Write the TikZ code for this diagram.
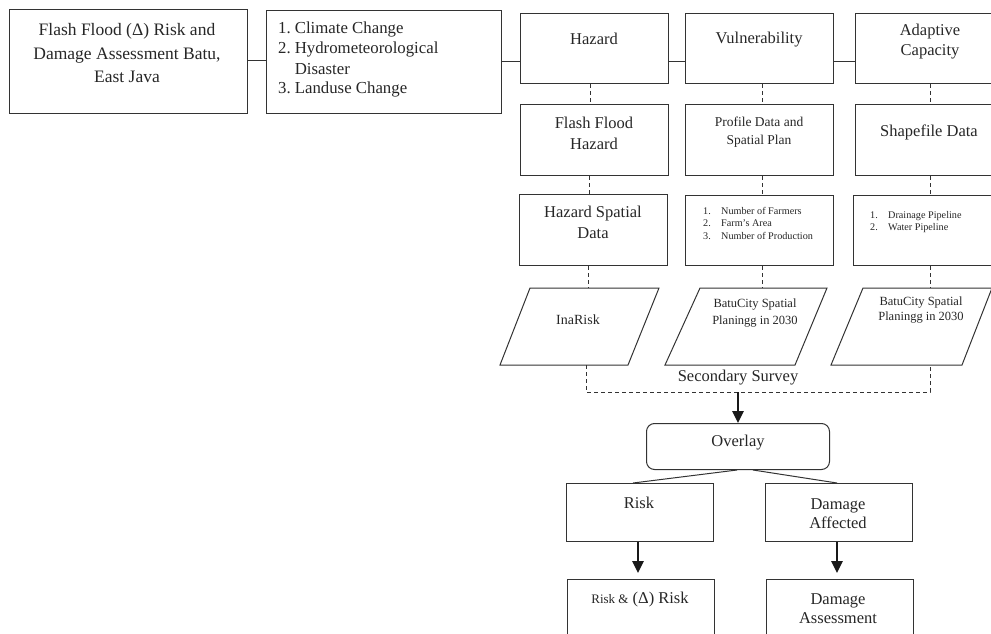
\documentclass[tikz,border=0pt]{standalone}
\usepackage{fontspec}
\setmainfont{Liberation Serif}
\usetikzlibrary{arrows.meta,calc}
\begin{document}
\begin{tikzpicture}[x=1pt,y=-1pt,
  box/.style={draw=black!80, line width=1pt, rectangle, inner sep=0pt, anchor=north west},
  rbox/.style={box, rounded corners=8pt},
  txt/.style={font=\fontsize{16.5}{20}\selectfont, text=black!85, align=center, inner sep=0pt},
  mtxt/.style={font=\fontsize{13.5}{18}\selectfont, text=black!85, align=center, inner sep=0pt},
  stxt/.style={font=\fontsize{10.2}{12.5}\selectfont, text=black!85, align=left, inner sep=0pt, anchor=west},
  conn/.style={draw=black!80, line width=1pt},
  dsh/.style={draw=black!80, line width=1pt, dash pattern=on 4pt off 3pt},
  arr/.style={draw=black!90, line width=1.4pt, -{Triangle[width=11.5pt,length=12pt]}},
  para/.style={draw=black!80, line width=1pt, line join=miter}
]
\useasboundingbox (0,0) rectangle (991,634);
\clip (0,0) rectangle (991,634);

% --- top row boxes
\node[box, minimum width=238pt, minimum height=104pt] (b1) at (9,9) {};
\node[box, minimum width=235pt, minimum height=103pt] (b2) at (266,10) {};
\node[box, minimum width=148pt, minimum height=70pt] (haz) at (520,13) {};
\node[box, minimum width=148pt, minimum height=70pt] (vul) at (685,13) {};
\node[box, minimum width=150pt, minimum height=70pt] (ada) at (855,13) {};

\node[txt, font=\fontsize{17.5}{20}\selectfont] (t1) at (127,53.5) {Flash Flood (Δ) Risk and\\[3.5pt]Damage Assessment Batu,\\[3.5pt]East Java};
\node[txt, font=\fontsize{16.8}{20}\selectfont, align=left, anchor=west] (t2) at (278,60) {%
  \begin{tabular}{@{}l@{\hspace{4pt}}l@{}}
  1. & Climate Change\\
  2. & Hydrometeorological\\
     & Disaster\\
  3. & Landuse Change
  \end{tabular}};
\node[txt] (th) at (594,39) {Hazard};
\node[txt] (tv) at (759,40) {Vulnerability};
\node[txt] (ta) at (930,42) {Adaptive\\Capacity};

\draw[conn] (b1.east |- 0,61) -- (b2.west |- 0,61);
\draw[conn] (b2.east |- 0,62) -- (haz.west |- 0,62);
\draw[conn] (haz.east |- 0,62) -- (vul.west |- 0,62);
\draw[conn] (vul.east |- 0,62) -- (ada.west |- 0,62);

% --- second row
\node[box, minimum width=148pt, minimum height=71pt] (ffh) at (520,104) {};
\node[box, minimum width=148pt, minimum height=71pt] (pro) at (685,104) {};
\node[box, minimum width=150pt, minimum height=71pt] (shp) at (855,104) {};
\node[txt] (tffh) at (594,133.5) {Flash Flood\\[1pt]Hazard};
\node[mtxt] (tpro) at (759,132) {Profile Data and\\Spatial Plan};
\node[txt] (tshp) at (929,132) {Shapefile Data};

% --- third row
\node[box, minimum width=148pt, minimum height=71pt] (hsd) at (519,194) {};
\node[box, minimum width=148pt, minimum height=70pt] (lst) at (685,195) {};
\node[box, minimum width=150pt, minimum height=70pt] (pip) at (853,195) {};
\node[txt] (thsd) at (593,222.5) {Hazard Spatial\\[1pt]Data};
\node[stxt] (tlst) at (703,223) {\makebox[18pt][l]{1.}Number of Farmers\\\makebox[18pt][l]{2.}Farm's Area\\\makebox[18pt][l]{3.}Number of Production};
\node[stxt] (tpip) at (870,222) {\makebox[18pt][l]{1.}Drainage Pipeline\\\makebox[18pt][l]{2.}Water Pipeline};

% vertical dashed connectors
\draw[dsh] (haz.south -| 590,0) -- (ffh.north -| 590,0);
\draw[dsh] (vul.south -| 762,0) -- (pro.north -| 762,0);
\draw[dsh] (ada.south -| 930,0) -- (shp.north -| 930,0);
\draw[dsh] (ffh.south -| 589,0) -- (hsd.north -| 589,0);
\draw[dsh] (pro.south -| 762,0) -- (lst.north -| 762,0);
\draw[dsh] (shp.south -| 930,0) -- (pip.north -| 930,0);

% --- parallelograms
\draw[para] (530,288) -- (659,288) -- (628,365) -- (500,365) -- cycle;
\draw[para] (700,288) -- (827,288) -- (795,365) -- (665,365) -- cycle;
\draw[para] (863,288) -- (992,288) -- (962,365) -- (831,365) -- cycle;
\coordinate (p1n) at (588,288);
\coordinate (p2n) at (762,288);
\coordinate (p3n) at (930,288);
\coordinate (p1s) at (586,365);
\coordinate (p3s) at (930,365);
\node[mtxt, font=\fontsize{14}{18}\selectfont] (tp1) at (578,320) {InaRisk};
\node[mtxt, font=\fontsize{12.5}{17}\selectfont] (tp2) at (755,313.5) {BatuCity Spatial\\Planingg in 2030};
\node[mtxt, font=\fontsize{12.5}{15}\selectfont] (tp3) at (921,310.5) {BatuCity Spatial\\Planingg in 2030};

\draw[dsh] (hsd.south -| 588,0) -- (p1n);
\draw[dsh] (lst.south -| 762,0) -- (p2n);
\draw[dsh] (pip.south -| 930,0) -- (p3n);

% secondary survey bracket
\coordinate (ssl) at (586,392);
\coordinate (ssr) at (930,392);
\coordinate (ssm) at (738,392);
\draw[dsh] (p1s) -- (ssl) -- (ssr) -- (p3s);
\node[txt] (tss) at (738,378) {Secondary Survey};

% --- overlay and results
\node[rbox, minimum width=183pt, minimum height=46pt] (ovl) at (646,423) {};
\node[txt] (tovl) at (738,443) {Overlay};
\draw[arr] (ssm) -- (ovl.north);

\node[box, minimum width=147pt, minimum height=58pt] (rsk) at (566,483) {};
\node[box, minimum width=147pt, minimum height=58pt] (dma) at (765,483) {};
\node[txt] (trsk) at (639,503) {Risk};
\node[txt] (tdma) at (838,513.5) {Damage\\[-1pt]Affected};

\draw[conn] ([xshift=-1pt]ovl.south) -- (rsk.north -| 633,0);
\draw[conn] ([xshift=15pt]ovl.south) -- (dma.north -| 837,0);

\node[box, minimum width=147pt, minimum height=80pt] (rdr) at (567,579) {};
\node[box, minimum width=147pt, minimum height=80pt] (das) at (766,579) {};
\node[txt] (trdr) at (640,600) {{\fontsize{13}{16}\selectfont Risk \&} (Δ) Risk};
\node[txt] (tdas) at (838,608.5) {Damage\\[-1pt]Assessment};

\draw[arr, shorten >=6pt] (rsk.south -| 638,0) -- (rdr.north -| 638,0);
\draw[arr, shorten >=6pt] (dma.south -| 837,0) -- (das.north -| 837,0);
\end{tikzpicture}
\end{document}
